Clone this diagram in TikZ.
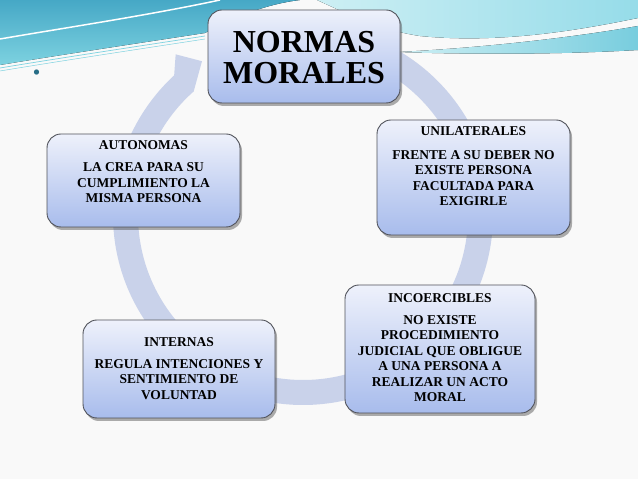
\documentclass[tikz,border=0pt]{standalone}
\usepackage{fontspec}
\setmainfont{Liberation Serif}
\usetikzlibrary{shadows}
\definecolor{bgc}{RGB}{249,249,249}
\definecolor{ringc}{RGB}{201,210,234}
\definecolor{cardtop}{RGB}{238,241,251}
\definecolor{cardmid}{RGB}{214,222,245}
\definecolor{cardbot}{RGB}{168,188,236}
\definecolor{cardline}{RGB}{80,82,90}
\definecolor{tealdark}{RGB}{70,168,198}
\definecolor{teallight}{RGB}{125,210,224}
\definecolor{cyanlight}{RGB}{150,220,233}
\definecolor{cyanpale}{RGB}{205,239,244}
\definecolor{cyanmid}{RGB}{120,205,222}
\definecolor{dotc}{RGB}{40,110,135}
\begin{document}
\begin{tikzpicture}[x=1pt,y=1pt,
  card/.style={draw=cardline, line width=0.9pt, rounded corners=14pt,
    top color=cardtop, middle color=cardmid, bottom color=cardbot,
    inner sep=0pt,
    drop shadow={shadow xshift=2pt, shadow yshift=-3pt, opacity=0.45, fill=black!70}},
  cardtext/.style={align=center, font=\bfseries\fontsize{13.5}{15.5}\selectfont, inner sep=0pt},
  ring/.style={draw=ringc, line width=25pt},
  ringhead/.style={fill=ringc}]
\useasboundingbox (0,0) rectangle (638,479);
\fill[bgc] (0,0) rectangle (638,479);
% top decorations
\fill[top color=tealdark, bottom color=teallight]
  (0,479) -- (300,479) .. controls (260,474) and (230,459) .. (205,446)
  .. controls (140,436) and (60,424) .. (0,414) -- cycle;
\draw[white, line width=1.5pt] (0,440) .. controls (70,452) and (150,464) .. (220,479);
\draw[teallight, line width=0.7pt] (0,411) .. controls (60,421) and (140,433) .. (205,443);
\draw[teallight, line width=0.5pt] (0,408) .. controls (60,418) and (140,430) .. (205,440);
\fill[left color=cyanpale, right color=cyanlight]
  (317,479) .. controls (350,464) and (380,449) .. (420,443)
  .. controls (500,435) and (580,449) .. (638,461) -- (638,479) -- cycle;
\fill[left color=cyanpale, right color=cyanmid]
  (398,427) .. controls (480,431) and (570,441) .. (638,453) -- (638,429)
  .. controls (570,425) and (480,424) .. (398,427) -- cycle;
\node[text=dotc, font=\fontsize{44}{44}\selectfont, inner sep=0pt] (dot) at (37,406) {.};
% ring
\coordinate (rc) at (303,264);
\draw[ring] (rc) ++(90:177.5pt) arc[start angle=90, end angle=-228.5, radius=177.5pt];
\fill[ringhead, shift={(303,264)}] (131.5:165pt) -- (132.7:190pt) -- (128.4:205pt) -- (123.3:184pt) -- cycle;
% cards
\node[card, minimum width=192pt, minimum height=93pt] (normas) at (304,422.5) {};
\node[card, minimum width=193pt, minimum height=115pt] (unil) at (473.5,301.5) {};
\node[card, minimum width=190pt, minimum height=128pt] (incoer) at (440,130) {};
\node[card, minimum width=192pt, minimum height=98pt] (intern) at (179,110) {};
\node[card, minimum width=193pt, minimum height=93pt] (auton) at (143.5,298.5) {};
% texts
\node[align=center, font=\bfseries\fontsize{32}{31}\selectfont, inner sep=0pt] (tnormas) at (304,421) {NORMAS\\MORALES};
\node[cardtext] (tauton) at (143.5,307.5) {AUTONOMAS\\[7pt]LA CREA PARA SU\\CUMPLIMIENTO LA\\MISMA PERSONA};
\node[cardtext] (tunil) at (473.5,312.5) {UNILATERALES\\[8pt]FRENTE A SU DEBER NO\\EXISTE PERSONA\\FACULTADA PARA\\EXIGIRLE};
\node[cardtext] (tincoer) at (440,131) {INCOERCIBLES\\[6pt]NO EXISTE\\PROCEDIMIENTO\\JUDICIAL QUE OBLIGUE\\A UNA PERSONA A\\REALIZAR UN ACTO\\MORAL};
\node[cardtext] (tintern) at (179,110.5) {INTERNAS\\[6pt]REGULA INTENCIONES Y\\SENTIMIENTO DE\\VOLUNTAD};
\end{tikzpicture}
\end{document}
